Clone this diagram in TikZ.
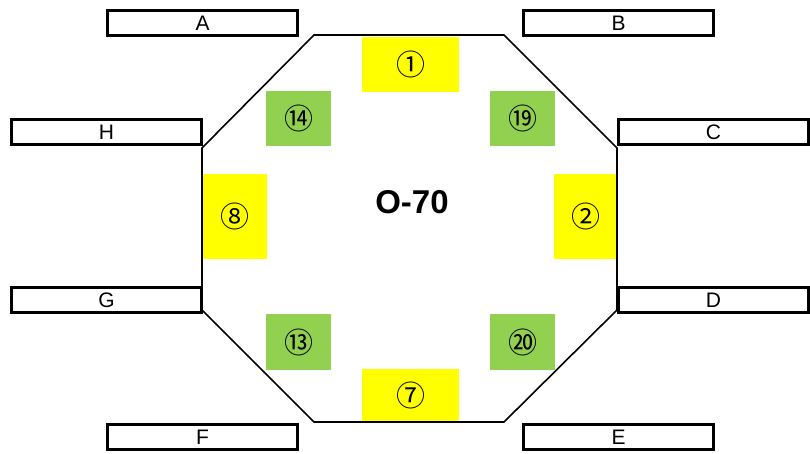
\documentclass[tikz,border=0pt]{standalone}
\usepackage{fontspec}
\setmainfont{Liberation Sans}
\newfontfamily\cjk{Noto Sans CJK JP}
\definecolor{padyellow}{HTML}{FFFF00}
\definecolor{padgreen}{HTML}{92D050}

\begin{document}
\begin{tikzpicture}[x=1pt, y=-1pt,
  label box/.style={draw, line width=3pt, minimum width=190pt, minimum height=25pt,
    inner sep=0pt, font=\fontsize{21}{21}\selectfont},
  pad/.style={inner sep=0pt, font=\cjk\fontsize{29}{29}\selectfont}]
  \useasboundingbox (0,0) rectangle (810,454);
  % 八角形 (每边 45 度斜切)
  \coordinate (O1) at (314,35);
  \coordinate (O2) at (504,35);
  \coordinate (O3) at (617,148);
  \coordinate (O4) at (617,310);
  \coordinate (O5) at (504,422);
  \coordinate (O6) at (314,422);
  \coordinate (O7) at (202,310);
  \coordinate (O8) at (202,148);
  % 色块
  \fill[padyellow] (362,37) rectangle (459,92);
  \fill[padyellow] (362,369) rectangle (459,421);
  \fill[padyellow] (203,174) rectangle (267,259);
  \fill[padyellow] (554,174) rectangle (617,259);
  \fill[padgreen] (266,91) rectangle (331,146);
  \fill[padgreen] (490,91) rectangle (555,146);
  \fill[padgreen] (266,314) rectangle (331,370);
  \fill[padgreen] (490,314) rectangle (555,370);
  \draw[line width=1.6pt] (O1)--(O2)--(O3)--(O4)--(O5)--(O6)--(O7)--(O8)--cycle;
  \node[pad] (p1) at (410.5,64.5) {①};
  \node[pad] (p7) at (410.5,395) {⑦};
  \node[pad] (p8) at (235,216.5) {⑧};
  \node[pad] (p2) at (586,216.5) {②};
  \node[pad] (p14) at (298.5,118.5) {⑭};
  \node[pad] (p19) at (522.5,118.5) {⑲};
  \node[pad] (p13) at (298.5,342) {⑬};
  \node[pad] (p20) at (522.5,342) {⑳};
  \node[font=\bfseries\fontsize{33}{33}\selectfont] (title) at (412,202) {O-70};
  % 外侧标签框
  \node[label box] (A) at (202.5,23) {A};
  \node[label box] (B) at (618.5,23) {B};
  \node[label box] (H) at (106.5,132) {H};
  \node[label box] (C) at (713.5,132) {C};
  \node[label box] (G) at (106.5,300) {G};
  \node[label box] (D) at (713.5,300) {D};
  \node[label box] (F) at (202.5,437) {F};
  \node[label box] (E) at (618.5,437) {E};
\end{tikzpicture}
\end{document}
